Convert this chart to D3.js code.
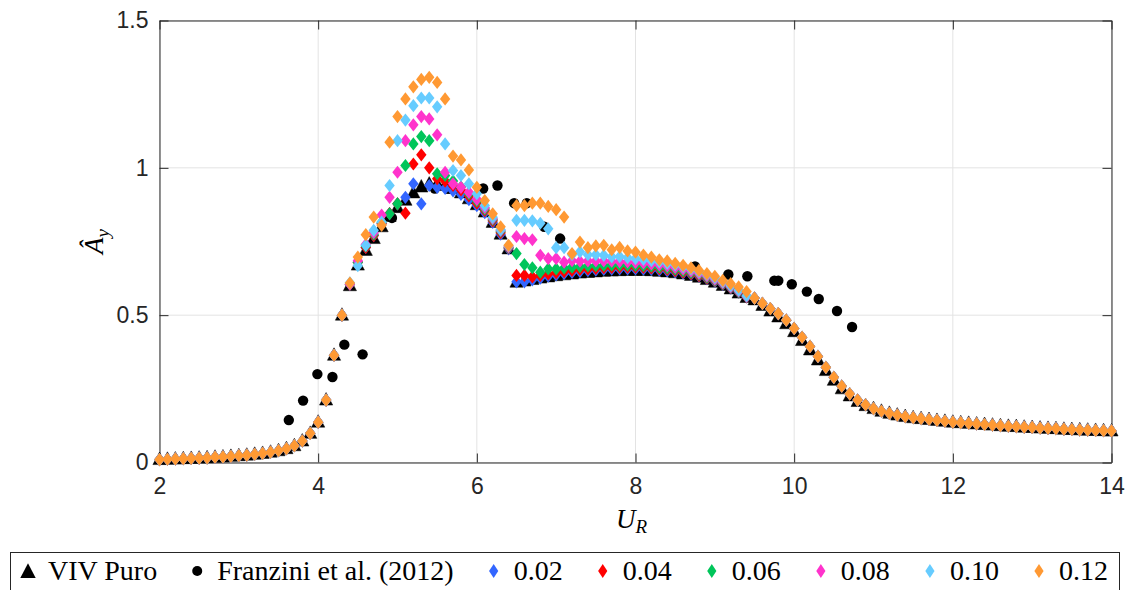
<!DOCTYPE html>
<html>
<head>
<meta charset="utf-8">
<script src="https://cdn.jsdelivr.net/npm/d3@7"></script>
<style>
  body { margin: 0; background: #fff; }
</style>
</head>
<body>
<div id="chart-area"></div>
<script>
// Reduced velocity grid: 2.0 to 14.0, step 0.1 (121 points)
var uGrid = d3.range(121).map(function(i){ return +(2 + i * 0.1).toFixed(1); });

// U = 2.0 .. 4.3 (all series overlap here)
var lowA = [0.010, 0.011, 0.012, 0.013, 0.014, 0.015, 0.016, 0.018, 0.019, 0.021,
            0.023, 0.025, 0.028, 0.031, 0.035, 0.040, 0.047, 0.057, 0.073, 0.099,
            0.137, 0.212, 0.364, 0.500];

// U = 4.4 .. 9.4
var vivMid = [0.600, 0.670, 0.720, 0.760, 0.800, 0.835, 0.865, 0.890, 0.915, 0.935,
              0.945, 0.945, 0.940, 0.930, 0.915, 0.895, 0.875, 0.850, 0.815, 0.775,
              0.725, 0.612, 0.616, 0.621, 0.626, 0.630, 0.634, 0.637, 0.640, 0.643,
              0.645, 0.647, 0.649, 0.650, 0.651, 0.652, 0.652, 0.652, 0.651, 0.649,
              0.647, 0.644, 0.640, 0.635, 0.629, 0.621, 0.612, 0.601, 0.589, 0.575,
              0.560];
var mid002 = [0.605, 0.680, 0.730, 0.770, 0.810, 0.845, 0.878, 0.900, 0.946, 0.878,
              0.940, 0.934, 0.930, 0.922, 0.910, 0.892, 0.872, 0.848, 0.815, 0.775,
              0.725, 0.613, 0.613, 0.620, 0.626, 0.632, 0.637, 0.641, 0.645, 0.648,
              0.651, 0.653, 0.655, 0.656, 0.657, 0.657, 0.657, 0.656, 0.655, 0.653,
              0.650, 0.647, 0.643, 0.638, 0.632, 0.624, 0.615, 0.604, 0.592, 0.578,
              0.562];
var mid004 = [0.605, 0.680, 0.730, 0.770, 0.810, 0.845, 0.878, 0.846, 1.013, 1.044,
              1.000, 0.963, 0.955, 0.940, 0.925, 0.905, 0.880, 0.855, 0.820, 0.780,
              0.728, 0.635, 0.635, 0.630, 0.635, 0.640, 0.644, 0.648, 0.652, 0.655,
              0.657, 0.659, 0.661, 0.662, 0.663, 0.663, 0.663, 0.662, 0.660, 0.658,
              0.655, 0.651, 0.646, 0.641, 0.634, 0.626, 0.617, 0.606, 0.593, 0.579,
              0.562];
var mid006 = [0.605, 0.680, 0.735, 0.775, 0.815, 0.844, 0.878, 1.008, 1.081, 1.106,
              1.092, 0.980, 0.974, 0.955, 0.935, 0.912, 0.888, 0.860, 0.825, 0.785,
              0.730, 0.709, 0.672, 0.661, 0.646, 0.657, 0.657, 0.660, 0.663, 0.665,
              0.667, 0.668, 0.669, 0.670, 0.670, 0.670, 0.669, 0.668, 0.666, 0.663,
              0.660, 0.656, 0.651, 0.645, 0.638, 0.629, 0.619, 0.608, 0.595, 0.580,
              0.563];
var mid008 = [0.605, 0.685, 0.740, 0.780, 0.840, 0.900, 0.985, 1.092, 1.146, 1.174,
              1.166, 1.112, 0.985, 0.946, 0.934, 0.917, 0.893, 0.865, 0.828, 0.788,
              0.732, 0.767, 0.760, 0.756, 0.703, 0.692, 0.692, 0.680, 0.685, 0.683,
              0.684, 0.684, 0.684, 0.683, 0.682, 0.681, 0.679, 0.677, 0.674, 0.671,
              0.667, 0.662, 0.657, 0.650, 0.642, 0.633, 0.622, 0.610, 0.597, 0.582,
              0.564];
var mid010 = [0.610, 0.668, 0.737, 0.788, 0.816, 0.940, 1.092, 1.162, 1.211, 1.237,
              1.237, 1.207, 1.081, 0.991, 0.974, 0.946, 0.912, 0.872, 0.832, 0.790,
              0.735, 0.822, 0.822, 0.820, 0.812, 0.793, 0.729, 0.729, 0.705, 0.715,
              0.705, 0.705, 0.703, 0.698, 0.699, 0.695, 0.692, 0.689, 0.685, 0.681,
              0.676, 0.671, 0.665, 0.657, 0.648, 0.638, 0.627, 0.614, 0.600, 0.585,
              0.566];
var mid012 = [0.609, 0.697, 0.773, 0.833, 0.805, 1.087, 1.174, 1.234, 1.275, 1.300,
              1.307, 1.290, 1.234, 1.040, 1.027, 0.993, 0.934, 0.889, 0.844, 0.800,
              0.737, 0.872, 0.872, 0.880, 0.880, 0.869, 0.858, 0.833, 0.709, 0.748,
              0.729, 0.735, 0.737, 0.722, 0.730, 0.718, 0.714, 0.704, 0.697, 0.688,
              0.684, 0.676, 0.669, 0.661, 0.652, 0.641, 0.632, 0.618, 0.607, 0.596,
              0.580];

// U = 9.5 .. 10.9
var vivDesc = [0.552, 0.533, 0.514, 0.494, 0.471, 0.444, 0.414, 0.382, 0.348, 0.312,
               0.279, 0.250, 0.226, 0.207, 0.193];
var diamondDesc = [0.558, 0.540, 0.522, 0.505, 0.483, 0.455, 0.425, 0.394, 0.360, 0.323,
                   0.289, 0.259, 0.233, 0.212, 0.196];

// U = 11.0 .. 14.0 (all series overlap)
var tailA = [0.183, 0.174, 0.167, 0.161, 0.156, 0.152, 0.149, 0.146, 0.143, 0.140,
             0.137, 0.135, 0.133, 0.131, 0.129, 0.127, 0.125, 0.123, 0.122, 0.120,
             0.119, 0.117, 0.116, 0.115, 0.113, 0.112, 0.111, 0.110, 0.109, 0.108,
             0.107];

// Franzini et al. (2012)
var franziniU = [3.63, 3.81, 3.99, 4.18, 4.33, 4.56, 4.93, 5.47, 5.64, 6.08, 6.26, 6.47, 6.63,
                 6.85, 7.05, 8.75, 9.17, 9.41, 9.75, 9.80, 9.97, 10.16, 10.31, 10.54, 10.73];
var franziniA = [0.144, 0.210, 0.300, 0.290, 0.400, 0.367, 0.830, 0.930, 0.930, 0.930, 0.940, 0.880, 0.880,
                 0.800, 0.760, 0.665, 0.638, 0.632, 0.617, 0.617, 0.605, 0.580, 0.555, 0.514, 0.460];

var dampLabels = ["0.02", "0.04", "0.06", "0.08", "0.10", "0.12"];
var dampMids = [mid002, mid004, mid006, mid008, mid010, mid012];
var dampColors = ["#3366ff", "#ff0000", "#00c55a", "#ff33cc", "#66ccff", "#ff9933"];

var xTicks = [2, 4, 6, 8, 10, 12, 14];
var yTicks = [0, 0.5, 1, 1.5];

var W = 1128, H = 590;
var plot = { left: 159.5, right: 1111.5, top: 20.5, bottom: 462.5 };

var svg = d3.select("#chart-area")
    .append("svg")
        .attr("width", W)
        .attr("height", H)
        .style("display", "block");

var x = d3.scaleLinear().domain([2, 14]).range([plot.left, plot.right]);
var y = d3.scaleLinear().domain([0, 1.5]).range([plot.bottom, plot.top]);

var axisColor = "#262626";
var tickFont = "Liberation Sans, Arial, sans-serif";
var texFont = "Liberation Serif, Times New Roman, serif";

// Grid
var grid = svg.append("g");
grid.selectAll(".vg").data(xTicks).enter().append("line")
    .attr("x1", function(d){ return x(d); }).attr("x2", function(d){ return x(d); })
    .attr("y1", plot.top).attr("y2", plot.bottom)
    .attr("stroke", "#e3e3e3").attr("stroke-width", 1);
grid.selectAll(".hg").data(yTicks).enter().append("line")
    .attr("y1", function(d){ return y(d); }).attr("y2", function(d){ return y(d); })
    .attr("x1", plot.left).attr("x2", plot.right)
    .attr("stroke", "#e3e3e3").attr("stroke-width", 1);

// Axes (ticks pointing inward, box on all sides)
function styleAxis(g) {
    g.select(".domain").attr("stroke", axisColor);
    g.selectAll(".tick line").attr("stroke", axisColor);
    g.selectAll(".tick text").attr("fill", axisColor)
        .attr("font-family", tickFont).attr("font-size", "23px");
}

svg.append("g")
    .attr("transform", "translate(0," + plot.bottom + ")")
    .call(d3.axisBottom(x).tickValues(xTicks).tickSize(-9).tickSizeOuter(0).tickPadding(15)
        .tickFormat(d3.format("d")))
    .call(styleAxis);
svg.append("g")
    .attr("transform", "translate(0," + plot.top + ")")
    .call(d3.axisTop(x).tickValues(xTicks).tickSize(-9).tickSizeOuter(0).tickFormat(""))
    .call(styleAxis);
svg.append("g")
    .attr("transform", "translate(" + plot.left + ",0)")
    .call(d3.axisLeft(y).tickValues(yTicks).tickSize(-9).tickSizeOuter(0).tickPadding(11)
        .tickFormat(function(d){ return d === 0 ? "0" : d === 1 ? "1" : d3.format(".1f")(d); }))
    .call(styleAxis);
svg.append("g")
    .attr("transform", "translate(" + plot.right + ",0)")
    .call(d3.axisRight(y).tickValues(yTicks).tickSize(-9).tickSizeOuter(0).tickFormat(""))
    .call(styleAxis);

// marker shapes
function triPath(s) {
    return "M0," + (-s * 0.62) + "L" + (s * 0.55) + "," + (s * 0.42) + "L" + (-s * 0.55) + "," + (s * 0.42) + "Z";
}
function diaPath(w, h) {
    return "M0," + (-h) + "L" + w + ",0L0," + h + "L" + (-w) + ",0Z";
}

var marks = svg.append("g");

// VIV Puro
var vivA = lowA.concat(vivMid, vivDesc, tailA);
marks.append("g").selectAll("path")
    .data(uGrid.map(function(u, i){ return { u: u, a: vivA[i] }; }))
    .enter().append("path")
        .attr("d", triPath(12))
        .attr("transform", function(d){ return "translate(" + x(d.u) + "," + y(d.a) + ")"; })
        .attr("fill", "#000").attr("stroke", "#000").attr("stroke-width", 0.5);

// Franzini et al. (2012)
marks.append("g").selectAll("circle")
    .data(franziniU.map(function(u, i){ return { u: u, a: franziniA[i] }; }))
    .enter().append("circle")
        .attr("cx", function(d){ return x(d.u); })
        .attr("cy", function(d){ return y(d.a); })
        .attr("r", 5.2)
        .attr("fill", "#000");

// Damping series
dampMids.forEach(function(mid, k) {
    var vals = lowA.concat(mid, diamondDesc, tailA);
    marks.append("g").selectAll("path")
        .data(uGrid.map(function(u, i){ return { u: u, a: vals[i] }; }))
        .enter().append("path")
            .attr("d", diaPath(5.2, 6.6))
            .attr("transform", function(d){ return "translate(" + x(d.u) + "," + y(d.a) + ")"; })
            .attr("fill", dampColors[k]);
});

// Axis labels
var yl = svg.append("text")
    .attr("transform", "translate(103," + ((plot.top + plot.bottom) / 2) + ") rotate(-90)")
    .attr("text-anchor", "middle")
    .attr("font-family", texFont).attr("font-size", "27px").attr("fill", "#000");
yl.append("tspan").attr("font-style", "italic").text("Â");
yl.append("tspan").attr("font-style", "italic").attr("font-size", "19px").attr("dy", 6).text("y");

var xl = svg.append("text")
    .attr("x", (plot.left + plot.right) / 2 - 4)
    .attr("y", 528)
    .attr("text-anchor", "middle")
    .attr("font-family", texFont).attr("font-size", "27px").attr("fill", "#000");
xl.append("tspan").attr("font-style", "italic").text("U");
xl.append("tspan").attr("font-style", "italic").attr("font-size", "19px").attr("dy", 5).text("R");

// Legend
var legendBox = { x: 10.5, y: 552.5, w: 1109, h: 60 };
var legend = svg.append("g");
legend.append("rect")
    .attr("x", legendBox.x).attr("y", legendBox.y)
    .attr("width", legendBox.w).attr("height", legendBox.h)
    .attr("fill", "#fff").attr("stroke", axisColor).attr("stroke-width", 1);

var legendItems = [{ label: "VIV Puro", type: "tri", color: "#000" },
                   { label: "Franzini et al. (2012)", type: "dot", color: "#000" }]
    .concat(dampLabels.map(function(l, k){ return { label: l, type: "dia", color: dampColors[k] }; }));

var baseY = 580, markY = 571;
var items = legend.selectAll(".item").data(legendItems).enter().append("g");
items.append("text")
    .attr("y", baseY)
    .attr("font-family", texFont).attr("font-size", "28px").attr("fill", "#000")
    .text(function(d){ return d.label; });

// measure, then spread items between the legend's inner edges
var markerW = 14, textGap = 13, startX = 21, endX = 1108;
var widths = [];
items.select("text").each(function(){ widths.push(this.getComputedTextLength()); });
var fixed = d3.sum(widths) + legendItems.length * (markerW + textGap);
var itemGap = (endX - startX - fixed) / (legendItems.length - 1);
var cursor = startX;
items.each(function(d, i) {
    var g = d3.select(this);
    var mx = cursor + markerW / 2;
    if (d.type === "tri") {
        g.append("path").attr("d", triPath(14)).attr("fill", d.color)
            .attr("transform", "translate(" + mx + "," + (markY + 1) + ")");
    } else if (d.type === "dot") {
        g.append("circle").attr("cx", mx).attr("cy", markY).attr("r", 5).attr("fill", d.color);
    } else {
        g.append("path").attr("d", diaPath(4.6, 7)).attr("fill", d.color)
            .attr("transform", "translate(" + mx + "," + markY + ")");
    }
    g.select("text").attr("x", cursor + markerW + textGap);
    cursor += markerW + textGap + widths[i] + itemGap;
});
</script>
</body>
</html>
